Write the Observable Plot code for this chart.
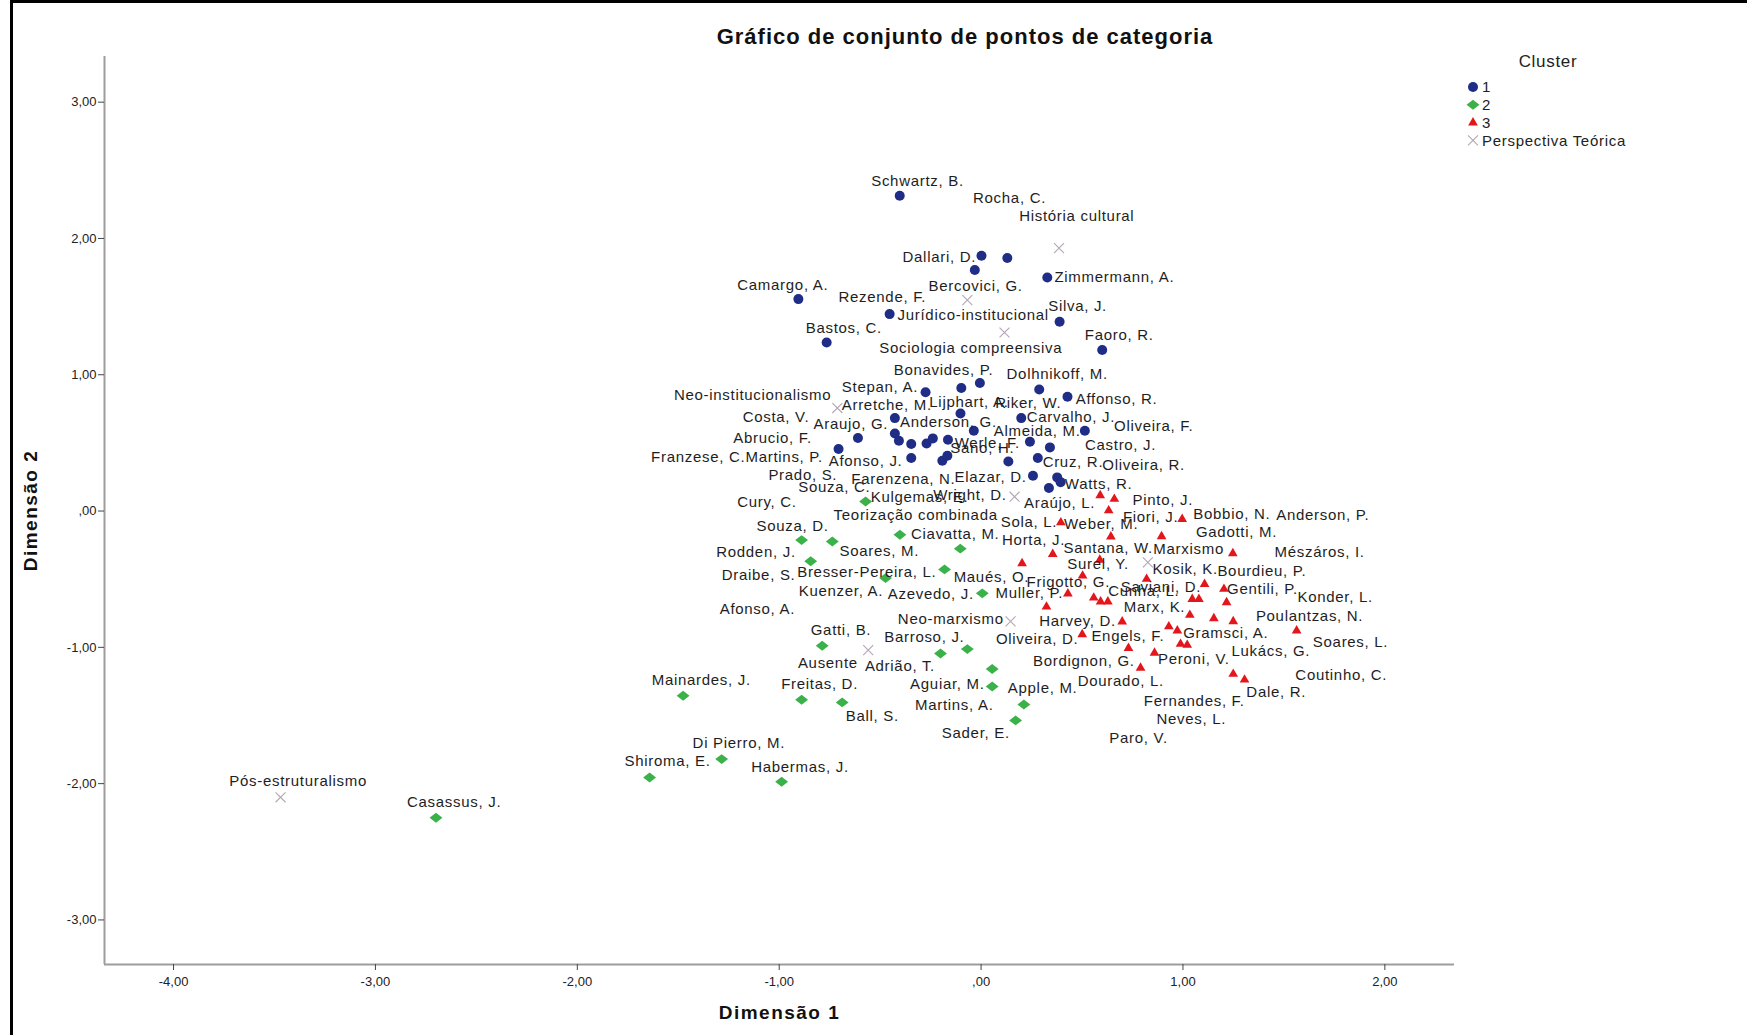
<!DOCTYPE html>
<html>
<head>
<meta charset="utf-8">
<script src="https://cdn.jsdelivr.net/npm/d3@7"></script>
<script src="https://cdn.jsdelivr.net/npm/@observablehq/plot@0.6"></script>
<style>
  html, body { margin: 0; padding: 0; background: #fff; }
  #wrap { position: relative; width: 1747px; height: 1035px; overflow: hidden; font-family: "Liberation Sans", Arial, sans-serif; }
  #wrap > svg { position: absolute; left: 0; top: 0; }
  #border { position: absolute; left: 10px; top: 0; width: 1800px; height: 1100px; border-left: 3px solid #000; border-top: 3px solid #000; box-sizing: border-box; pointer-events: none; }
</style>
</head>
<body>
<div id="wrap"><div id="border"></div></div>
<script>
// ---------- data ----------
const titleText = "Gráfico de conjunto de pontos de categoria";
const xLabel = "Dimensão 1";
const yLabel = "Dimensão 2";
const legendTitle = "Cluster";
const legendNames = ["1", "2", "3", "Perspectiva Teórica"];
const xTicks = [-4, -3, -2, -1, 0, 1, 2];
const yTicks = [-3, -2, -1, 0, 1, 2, 3];
const xDomain = [-4.342, 2.345];
const yDomain = [-3.327, 3.335];

// Cluster 1 (dimensão 1, dimensão 2)
const cluster1 = [
  [-0.403, 2.313], [0.002, 1.873], [0.130, 1.856], [-0.031, 1.768], [0.328, 1.714],
  [-0.905, 1.555], [-0.453, 1.445], [0.389, 1.389], [-0.765, 1.237], [0.600, 1.181],
  [-0.275, 0.872], [-0.098, 0.903], [-0.006, 0.940], [0.288, 0.892], [0.428, 0.838],
  [-0.102, 0.716], [0.199, 0.682], [-0.427, 0.682], [-0.036, 0.589], [0.514, 0.589],
  [-0.427, 0.569], [-0.610, 0.536], [-0.407, 0.516], [-0.346, 0.492], [-0.270, 0.496],
  [-0.239, 0.533], [-0.164, 0.523], [0.242, 0.508], [0.341, 0.467], [-0.706, 0.455],
  [-0.346, 0.389], [-0.192, 0.369], [-0.167, 0.406], [0.135, 0.364], [0.281, 0.389],
  [0.257, 0.259], [0.377, 0.247], [0.394, 0.212], [0.336, 0.169]
];
// Cluster 2
const cluster2 = [
  [-0.572, 0.070], [-0.402, -0.174], [-0.103, -0.276], [-0.889, -0.213], [-0.737, -0.223],
  [-0.844, -0.368], [-0.181, -0.428], [-0.473, -0.492], [0.006, -0.604], [-0.787, -0.988],
  [-0.201, -1.045], [-0.068, -1.013], [0.055, -1.159], [0.055, -1.287], [-1.476, -1.355],
  [-0.889, -1.384], [-0.688, -1.404], [0.212, -1.419], [0.171, -1.536], [-1.285, -1.820],
  [-1.642, -1.955], [-0.988, -1.986], [-2.700, -2.250]
];
// Cluster 3
const cluster3 = [
  [0.590, 0.115], [0.660, 0.088], [0.632, 0.004], [0.996, -0.059], [0.395, -0.084],
  [0.643, -0.188], [0.894, -0.186], [1.247, -0.311], [0.355, -0.316], [0.203, -0.384],
  [0.588, -0.358], [0.503, -0.475], [0.820, -0.499], [1.107, -0.536], [1.203, -0.572],
  [0.430, -0.606], [0.558, -0.636], [0.592, -0.665], [0.628, -0.665], [1.046, -0.646],
  [1.079, -0.646], [1.216, -0.670], [0.324, -0.702], [1.034, -0.763], [1.153, -0.788],
  [1.249, -0.810], [0.699, -0.812], [1.563, -0.878], [0.930, -0.847], [0.972, -0.878],
  [0.501, -0.905], [0.988, -0.976], [1.021, -0.983], [0.730, -1.006], [0.859, -1.041],
  [0.790, -1.151], [1.249, -1.196], [1.305, -1.238]
];
// Perspectiva Teórica
const perspectives = [
  [0.386, 1.929], [-0.068, 1.548], [0.116, 1.310], [-0.712, 0.756], [0.166, 0.105],
  [0.826, -0.377], [0.146, -0.810], [-0.559, -1.020], [-3.470, -2.100]
];
// Point labels: [text, dimensão 1, dimensão 2] (where the label sits)
const labels = [
  ["Schwartz, B.", -0.315, 2.418], ["Rocha, C.", 0.141, 2.296], ["História cultural", 0.474, 2.161],
  ["Dallari, D.", -0.207, 1.861], ["Zimmermann, A.", 0.660, 1.714], ["Camargo, A.", -0.982, 1.660],
  ["Bercovici, G.", -0.027, 1.648], ["Rezende, F.", -0.489, 1.567], ["Silva, J.", 0.478, 1.501],
  ["Jurídico-institucional", -0.039, 1.438], ["Bastos, C.", -0.680, 1.343], ["Faoro, R.", 0.684, 1.293],
  ["Sociologia compreensiva", -0.051, 1.193], ["Bonavides, P.", -0.186, 1.037], ["Dolhnikoff, M.", 0.377, 1.005],
  ["Stepan, A.", -0.501, 0.912], ["Neo-institucionalismo", -1.132, 0.851], ["Arretche, M.", -0.467, 0.778],
  ["Lijphart, A.", -0.060, 0.797], ["Riker, W.", 0.234, 0.792], ["Affonso, R.", 0.671, 0.824],
  ["Costa, V.", -1.016, 0.687], ["Carvalho, J.", 0.445, 0.687], ["Araujo, G.", -0.645, 0.638],
  ["Anderson, G.", -0.162, 0.650], ["Almeida, M.", 0.278, 0.584], ["Oliveira, F.", 0.855, 0.621],
  ["Abrucio, F.", -1.033, 0.533], ["Werle, F.", 0.031, 0.496], ["Sano, H.", 0.006, 0.462],
  ["Castro, J.", 0.691, 0.486], ["Franzese, C.", -1.401, 0.398], ["Martins, P.", -0.975, 0.398],
  ["Afonso, J.", -0.572, 0.364], ["Cruz, R.", 0.455, 0.357], ["Oliveira, R.", 0.805, 0.335],
  ["Prado, S.", -0.883, 0.264], ["Farenzena, N.", -0.385, 0.235], ["Elazar, D.", 0.047, 0.252],
  ["Watts, R.", 0.582, 0.198], ["Souza, C.", -0.727, 0.173], ["Kulgemas, E.", -0.305, 0.105],
  ["Wright, D.", -0.055, 0.117], ["Araújo, L.", 0.389, 0.056], ["Cury, C.", -1.061, 0.063],
  ["Teorização combinada", -0.324, -0.029], ["Sola, L.", 0.237, -0.084], ["Weber, M.", 0.595, -0.095],
  ["Souza, D.", -0.934, -0.108], ["Ciavatta, M.", -0.128, -0.169], ["Horta, J.", 0.260, -0.213],
  ["Rodden, J.", -1.115, -0.304], ["Soares, M.", -0.504, -0.291], ["Pinto, J.", 0.900, 0.081],
  ["Fiori, J.", 0.840, -0.042], ["Bobbio, N.", 1.242, -0.022], ["Anderson, P.", 1.693, -0.027],
  ["Gadotti, M.", 1.265, -0.157], ["Santana, W.", 0.630, -0.274], ["Marxismo", 1.028, -0.279],
  ["Mészáros, I.", 1.677, -0.299], ["Surel, Y.", 0.580, -0.389], ["Kosik, K.", 1.011, -0.426],
  ["Bourdieu, P.", 1.391, -0.443], ["Frigotto, G.", 0.432, -0.519], ["Saviani, D.", 0.891, -0.555],
  ["Cunha, L.", 0.806, -0.585], ["Gentili, P.", 1.394, -0.572], ["Muller, P.", 0.239, -0.605],
  ["Konder, L.", 1.754, -0.634], ["Marx, K.", 0.859, -0.707], ["Poulantzas, N.", 1.627, -0.768],
  ["Harvey, D.", 0.478, -0.805], ["Oliveira, D.", 0.278, -0.939], ["Engels, F.", 0.727, -0.920],
  ["Gramsci, A.", 1.212, -0.895], ["Soares, L.", 1.830, -0.964], ["Lukács, G.", 1.435, -1.030],
  ["Bordignon, G.", 0.509, -1.098], ["Peroni, V.", 1.054, -1.086], ["Coutinho, C.", 1.784, -1.201],
  ["Dourado, L.", 0.692, -1.250], ["Apple, M.", 0.305, -1.299], ["Dale, R.", 1.462, -1.326],
  ["Fernandes, F.", 1.056, -1.392], ["Neves, L.", 1.041, -1.526], ["Paro, V.", 0.780, -1.665],
  ["Sader, E.", -0.026, -1.632], ["Draibe, S.", -1.102, -0.470], ["Bresser-Pereira, L.", -0.566, -0.450],
  ["Maués, O.", 0.051, -0.482], ["Kuenzer, A.", -0.694, -0.590], ["Azevedo, J.", -0.249, -0.609],
  ["Afonso, A.", -1.108, -0.719], ["Neo-marxismo", -0.150, -0.792], ["Gatti, B.", -0.694, -0.873],
  ["Barroso, J.", -0.281, -0.927], ["Ausente", -0.759, -1.118], ["Adrião, T.", -0.402, -1.135],
  ["Mainardes, J.", -1.386, -1.240], ["Freitas, D.", -0.800, -1.269], ["Aguiar, M.", -0.167, -1.269],
  ["Martins, A.", -0.133, -1.423], ["Ball, S.", -0.539, -1.502], ["Di Pierro, M.", -1.200, -1.702],
  ["Shiroma, E.", -1.553, -1.837], ["Habermas, J.", -0.897, -1.876], ["Pós-estruturalismo", -3.383, -1.979],
  ["Casassus, J.", -2.610, -2.133]
];

// ---------- styles ----------
const FONT = '"Liberation Sans", Arial, sans-serif';
const C_BLUE = "#1f2d86", C_GREEN = "#3bb14a", C_RED = "#e3161c", C_X = "#b3a6b5";
const R_CIRCLE = 5, R_DIAMOND = 4.5, R_TRI = 3.6, R_X = 4.6;

// SPSS-style diamond: a little wider than tall
const wideDiamond = {
  draw(context, size) {
    const h = Math.sqrt((2 * size) / 1.3), w = 1.3 * h;
    context.moveTo(-w / 2, 0);
    context.lineTo(0, -h / 2);
    context.lineTo(w / 2, 0);
    context.lineTo(0, h / 2);
    context.closePath();
  }
};

const fmt = d => (d < 0 ? "-" : "") + Math.abs(d).toFixed(2).replace(".", ",").replace(/^0/, "");
const px = d => d[0], py = d => d[1];

const chart = Plot.plot({
  width: 1747,
  height: 1035,
  marginLeft: 104,
  marginRight: 293,
  marginTop: 56,
  marginBottom: 71,
  style: { fontFamily: FONT, background: "transparent", color: "#222", overflow: "visible" },
  x: { domain: xDomain },
  y: { domain: yDomain },
  marks: [
    Plot.ruleX([xDomain[0]], { stroke: "#9d9d9d", strokeWidth: 2 }),
    Plot.ruleY([yDomain[0]], { stroke: "#9d9d9d", strokeWidth: 2 }),
    Plot.axisX({ ticks: xTicks, tickFormat: fmt, tickSize: 6, tickPadding: 6, fontSize: 13, label: null, stroke: "#444", fill: "#222" }),
    Plot.axisY({ ticks: yTicks, tickFormat: fmt, tickSize: 6, tickPadding: 2, fontSize: 13, label: null, stroke: "#444", fill: "#222" }),
    Plot.dot(cluster1, { x: px, y: py, symbol: "circle", r: R_CIRCLE, fill: C_BLUE }),
    Plot.dot(cluster2, { x: px, y: py, symbol: wideDiamond, r: R_DIAMOND, fill: C_GREEN }),
    Plot.dot(cluster3, { x: px, y: py, symbol: "triangle", r: R_TRI, fill: C_RED }),
    Plot.dot(perspectives, { x: px, y: py, symbol: "times", r: R_X, stroke: C_X, strokeWidth: 1.1 }),
    Plot.text(labels, { x: d => d[1], y: d => d[2], text: d => d[0], fontSize: 15, fill: "#1e1e1e", textAnchor: "middle", lineAnchor: "middle" }),
    Plot.text([xLabel], { text: d => d, frameAnchor: "bottom", lineAnchor: "middle", textAnchor: "middle", dy: 48, fontSize: 19, fontWeight: "bold", fill: "#111" }),
    Plot.text([yLabel], { text: d => d, frameAnchor: "left", lineAnchor: "middle", textAnchor: "middle", rotate: -90, dx: -74, fontSize: 19, fontWeight: "bold", fill: "#111" })
  ]
});

const wrap = document.getElementById("wrap");
wrap.insertBefore(chart, wrap.firstChild);

// letter spacing to mimic the wide SPSS rendering
const textGroups = chart.querySelectorAll('g[aria-label="text"]');
if (textGroups[0]) textGroups[0].style.letterSpacing = "0.7px";
if (textGroups[1]) textGroups[1].style.letterSpacing = "1.5px";
if (textGroups[2]) textGroups[2].style.letterSpacing = "1.5px";

// ---------- title + legend overlay ----------
const over = d3.select(wrap).append("svg")
  .attr("width", 1747).attr("height", 1035)
  .style("position", "absolute").style("left", 0).style("top", 0)
  .style("pointer-events", "none")
  .style("font-family", FONT);

over.append("text")
  .attr("x", 965).attr("y", 36).attr("dy", "0.35em")
  .attr("text-anchor", "middle")
  .style("font-size", "22px").style("font-weight", "bold").style("letter-spacing", "1px")
  .attr("fill", "#111")
  .text(titleText);

over.append("text")
  .attr("x", 1548).attr("y", 61).attr("dy", "0.35em")
  .attr("text-anchor", "middle")
  .style("font-size", "17px").style("letter-spacing", "0.7px")
  .attr("fill", "#222")
  .text(legendTitle);

const legendSym = [
  { sym: d3.symbolCircle, r: R_CIRCLE, fill: C_BLUE, stroke: "none" },
  { sym: wideDiamond, r: R_DIAMOND, fill: C_GREEN, stroke: "none" },
  { sym: d3.symbolTriangle, r: R_TRI, fill: C_RED, stroke: "none" },
  { sym: d3.symbolTimes, r: R_X, fill: "none", stroke: C_X }
];
const legendY0 = 87, legendStep = 17.8;
legendNames.forEach((name, i) => {
  const y = legendY0 + i * legendStep;
  const s = legendSym[i];
  over.append("path")
    .attr("transform", `translate(1473,${y})`)
    .attr("d", d3.symbol(s.sym, Math.PI * s.r * s.r)())
    .attr("fill", s.fill).attr("stroke", s.stroke).attr("stroke-width", 1.1);
  over.append("text")
    .attr("x", 1482).attr("y", y).attr("dy", "0.35em")
    .style("font-size", "15px").style("letter-spacing", "0.7px")
    .attr("fill", "#222")
    .text(name);
});
</script>
</body>
</html>
